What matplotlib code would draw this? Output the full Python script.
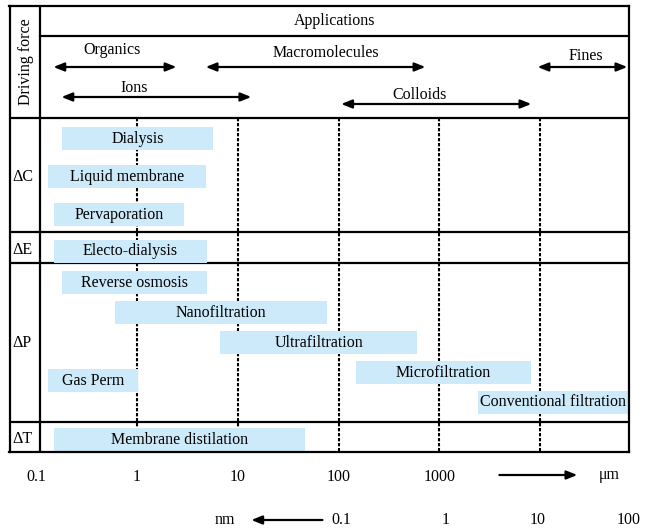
import numpy as np
import matplotlib.pyplot as plt
import matplotlib.transforms as mtransforms

plt.rcParams['font.family'] = ['Liberation Serif', 'DejaVu Serif']
plt.rcParams['font.size'] = 11.5

# membrane processes and their size range (same units as the top scale)
processes = ['Dialysis', 'Liquid membrane', 'Pervaporation', 'Electo-dialysis',
             'Reverse osmosis', 'Nanofiltration', 'Ultrafiltration', 'Microfiltration',
             'Gas Perm', 'Conventional filtration', 'Membrane distilation']
size_lo = [0.18, 0.13, 0.15, 0.15, 0.18, 0.6, 6.7, 150, 0.13, 2400, 0.15]
size_hi = [5.7, 4.8, 2.9, 4.9, 4.9, 77, 600, 8000, 1.03, 76000, 46]

# applications (double arrows in the header)
apps = ['Organics', 'Macromolecules', 'Fines', 'Ions', 'Colloids']
app_lo = [0.148, 4.8, 9400, 0.178, 106]
app_hi = [2.46, 725, 73000, 13.6, 8150]
app_label_at = [0.56, 75, 28600, 0.94, 630]

forces = ['ΔC', 'ΔE', 'ΔP', 'ΔT']

size_ticks = [0.1, 1, 10, 100, 1000]
size_ticklabels = ['0.1', '1', '10', '100', '1000']
dash_at = [1, 10, 100, 1000, 10000]
nm_labels = ['0.1', '1', '10', '100']
nm_at = [106, 1150, 9350, 76000]

# layout, y in pixels from the top of the image
lane_y = [138.5, 176.5, 214.5, 251, 282.5, 312.5, 342.5, 372.5, 380.5, 402.5, 439.5]
bar_h = 23
row_lines = [118, 232, 262.5, 422]
force_y = [177, 250, 343, 439]
app_arrow_y = [67, 67, 67, 97, 104]
app_text_y = [50, 53, 56, 88, 95]
box_top, box_bot = 6, 452
div_x = (40 - 9.5) / 619.5

bar_color = '#cdeafb'

fig = plt.figure(figsize=(6.46, 5.29), dpi=100)
ax = fig.add_axes([9.5 / 646, 1 - box_bot / 529, 619.5 / 646, (box_bot - box_top) / 529])
ax.set_xscale('log')
ax.set_xlim(10 ** -1.265, 10 ** 4.88)
ax.set_ylim(box_bot, box_top)
for s in ax.spines.values():
    s.set_linewidth(1.6)

trans = mtransforms.blended_transform_factory(ax.transAxes, ax.transData)

# grid structure
ax.plot([div_x, div_x], [box_top, box_bot], color='black', lw=1.6, transform=trans)
ax.plot([div_x, 1], [36, 36], color='black', lw=1.6, transform=trans)
for y in row_lines:
    ax.plot([0, 1], [y, y], color='black', lw=1.6, transform=trans)

ax.vlines(dash_at, row_lines[0], box_bot, colors='black', lw=1.5,
          linestyles=(0, (1.6, 0.8)), zorder=1)

# process bars
lo = np.array(size_lo)
hi = np.array(size_hi)
ax.barh(lane_y, hi - lo, left=lo, height=bar_h, color=bar_color, zorder=2)
for name, a, b, y in zip(processes, lo, hi, lane_y):
    ax.text(np.sqrt(a * b), y, name, ha='center', va='center', zorder=3)

# header
ax.text((div_x + 1) / 2, 21, 'Applications', ha='center', va='center', transform=trans)
ax.text(0.027, 62, 'Driving force', rotation=90, ha='center', va='center', transform=trans)
for name, a, b, xl, ya, yt in zip(apps, app_lo, app_hi, app_label_at, app_arrow_y, app_text_y):
    ax.annotate('', xy=(b, ya), xytext=(a, ya),
                arrowprops=dict(arrowstyle='<|-|>,head_length=0.55,head_width=0.22',
                                color='black', lw=1.6, shrinkA=0, shrinkB=0))
    ax.text(xl, yt, name, ha='center', va='center')

for f, y in zip(forces, force_y):
    ax.text(0.004, y, f, ha='left', va='center', transform=trans)

# size scales
ax.set_xticks(size_ticks)
ax.set_xticklabels(size_ticklabels)
ax.minorticks_off()
ax.tick_params(axis='x', length=0, pad=12)
ax.set_yticks([])

ax.annotate('', xy=(23300, 475), xytext=(3930, 475), annotation_clip=False,
            arrowprops=dict(arrowstyle='-|>,head_length=0.55,head_width=0.22',
                            color='black', lw=1.6, shrinkA=0, shrinkB=0))
ax.text(48500, 475, 'μm', ha='center', va='center', clip_on=False)

ax.annotate('', xy=(13.6, 520), xytext=(69, 520), annotation_clip=False,
            arrowprops=dict(arrowstyle='-|>,head_length=0.55,head_width=0.22',
                            color='black', lw=1.6, shrinkA=0, shrinkB=0))
ax.text(7.5, 520, 'nm', ha='center', va='center', clip_on=False)
for lab, x in zip(nm_labels, nm_at):
    ax.text(x, 520, lab, ha='center', va='center', clip_on=False)

fig.savefig('out.png', dpi=100)
